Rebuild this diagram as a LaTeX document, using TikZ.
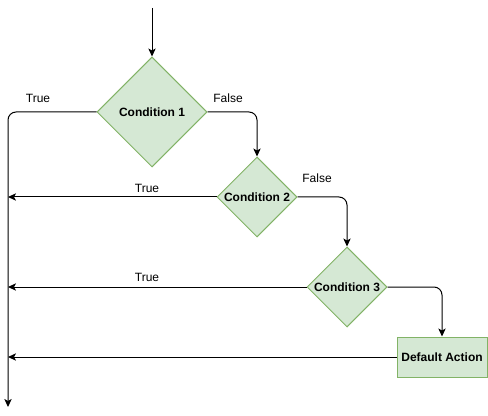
\documentclass[tikz,border=0pt]{standalone}
\usepackage{fontspec}
\setmainfont{Liberation Sans}
\usetikzlibrary{shapes.geometric,arrows.meta}
\definecolor{gfill}{HTML}{D5E8D4}
\definecolor{gline}{HTML}{82B366}
\begin{document}
\begin{tikzpicture}[x=0.75pt,y=-0.75pt,
  cond/.style={shape=diamond,draw=gline,fill=gfill,line width=0.75pt,inner sep=0pt,font=\bfseries\fontsize{9}{10}\selectfont},
  actbox/.style={shape=rectangle,draw=gline,fill=gfill,line width=0.75pt,inner sep=0pt,minimum width=67.5pt,minimum height=30pt,font=\bfseries\fontsize{9}{10}\selectfont},
  conn/.style={draw=black,line width=0.75pt,rounded corners=6pt,-{Stealth[length=6pt,width=5.5pt,inset=1.5pt]}},
  lbl/.style={font=\fontsize{9}{10}\selectfont,inner sep=0pt}]
\useasboundingbox (0,0) rectangle (488,416);
\node[cond,minimum width=82.5pt,minimum height=82.5pt] (c1) at (152,112) {\makebox[0pt]{Condition 1}};
\node[cond,minimum width=60pt,minimum height=60pt] (c2) at (257,197) {\makebox[0pt]{Condition 2}};
\node[cond,minimum width=60pt,minimum height=60pt] (c3) at (347,287) {\makebox[0pt]{Condition 3}};
\node[actbox] (da) at (442,357) {Default Action};
\coordinate (start) at (152,8);
\coordinate (corner) at (8,112);
\coordinate (bottom) at (8,407);
\coordinate (t2) at (8,197);
\coordinate (t3) at (8,287);
\coordinate (t4) at (8,357);
\draw[conn] (start) -- (c1.north);
\draw[conn] (c1.west) -- (corner) -- (bottom);
\draw[conn] (c1.east) -| (c2.north);
\draw[conn] (c2.east) -| (c3.north);
\draw[conn] (c3.east) -| (da.north);
\draw[conn] (c2.west) -- (t2);
\draw[conn] (c3.west) -- (t3);
\draw[conn] (da.west) -- (t4);
\node[lbl] (l1) at (38,98) {True};
\node[lbl] (l2) at (228,98) {False};
\node[lbl] (l3) at (147,188) {True};
\node[lbl] (l4) at (317,178) {False};
\node[lbl] (l5) at (147,277) {True};
\end{tikzpicture}
\end{document}
